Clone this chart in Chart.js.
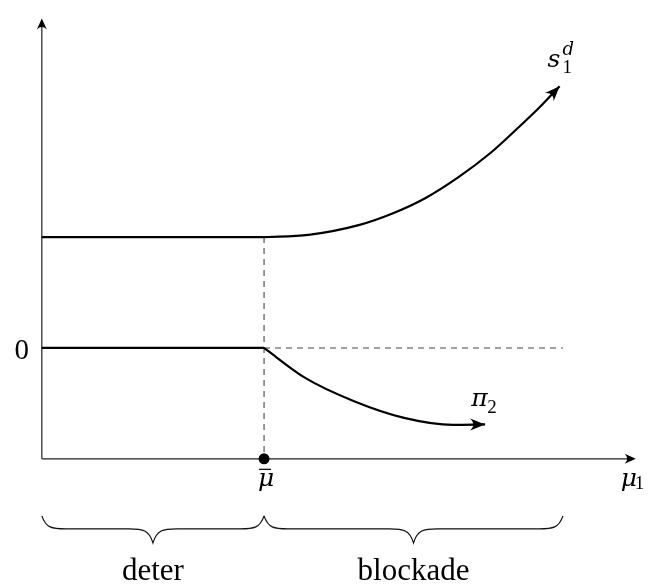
<!DOCTYPE html>
<html>
<head>
<meta charset="utf-8">
<script src="https://cdn.jsdelivr.net/npm/chart.js@4.4.1/dist/chart.umd.min.js"></script>
<style>
    body { margin: 0; background: #fff; }
    #wrap { position: relative; width: 654px; height: 587px; }
</style>
</head>
<body>
<div id="wrap"><canvas id="regimeChart"></canvas></div>
<script>
// threshold between the two regimes
const muBar = 2;
const xAxisEnd = 5.345;
const yAxisTop = 2.97;
const axisLevel = -1;

// flat parts before the threshold
const flatX = [0, 2];
const sFlatY = [1, 1];
const piFlatY = [0, 0];

// s_1^d after the threshold
const sX = [2, 2.4, 2.86, 3.15, 3.45, 3.75, 4.04, 4.27, 4.48, 4.66];
const sY = [1, 1.02, 1.11, 1.21, 1.35, 1.54, 1.76, 1.97, 2.17, 2.36];

// pi_2 after the threshold
const piX = [2, 2.37, 2.81, 3.26, 3.7, 3.99];
const piY = [0, -0.27, -0.48, -0.63, -0.693, -0.69];

// dashed guides
const zeroGuideX = [2, 4.69];
const muGuideY = [1, -1];

// braces under the axis
const braceStarts = [0, 2];
const braceEnds = [2, 4.69];
const braceLabels = ['deter', 'blockade'];

const MATH = '"DejaVu Serif", "Liberation Serif", serif';
const TEXT = '"Liberation Serif", serif';

const pts = (xs, ys) => xs.map((x, i) => ({ x: x, y: ys[i] }));

function arrowHead(ctx, x, y, angle, len, half) {
    ctx.save();
    ctx.translate(x, y);
    ctx.rotate(angle);
    ctx.beginPath();
    ctx.moveTo(0, 0);
    ctx.lineTo(-len, -half);
    ctx.quadraticCurveTo(-len * 0.55, 0, -len, half);
    ctx.closePath();
    ctx.fill();
    ctx.restore();
}

function brace(ctx, x0, x1, yTop, yLine, yTip) {
    const xm = (x0 + x1) / 2;
    const r = 24;
    ctx.beginPath();
    ctx.moveTo(x0, yTop);
    ctx.bezierCurveTo(x0 + 4, yLine - 1, x0 + 10, yLine, x0 + r, yLine);
    ctx.lineTo(xm - r, yLine);
    ctx.bezierCurveTo(xm - 10, yLine, xm - 4, yLine + 1, xm, yTip);
    ctx.bezierCurveTo(xm + 4, yLine + 1, xm + 10, yLine, xm + r, yLine);
    ctx.lineTo(x1 - r, yLine);
    ctx.bezierCurveTo(x1 - 10, yLine, x1 - 4, yLine - 1, x1, yTop);
    ctx.stroke();
}

const axesPlugin = {
    id: 'axesPlugin',
    beforeDatasetsDraw(chart) {
        const ctx = chart.ctx;
        const xs = chart.scales.x, ys = chart.scales.y;
        const ox = xs.getPixelForValue(0), oy = ys.getPixelForValue(axisLevel);
        const ex = xs.getPixelForValue(xAxisEnd), ty = ys.getPixelForValue(yAxisTop);
        ctx.save();
        ctx.strokeStyle = '#222';
        ctx.fillStyle = '#000';
        ctx.lineWidth = 1.2;
        ctx.beginPath();
        ctx.moveTo(ox, oy);
        ctx.lineTo(ex - 4, oy);
        ctx.moveTo(ox, oy);
        ctx.lineTo(ox, ty + 4);
        ctx.stroke();
        arrowHead(ctx, ex, oy, 0, 11, 5);
        arrowHead(ctx, ox, ty, -Math.PI / 2, 11, 5);
        ctx.restore();
    },
    afterDatasetsDraw(chart) {
        const ctx = chart.ctx;
        const xs = chart.scales.x, ys = chart.scales.y;
        ctx.save();
        ctx.fillStyle = '#000';

        // arrow tips on the two curves
        [[sX, sY], [piX, piY]].forEach(([xx, yy]) => {
            const n = xx.length;
            const x1 = xs.getPixelForValue(xx[n - 1]), y1 = ys.getPixelForValue(yy[n - 1]);
            const x0 = xs.getPixelForValue(xx[n - 2]), y0 = ys.getPixelForValue(yy[n - 2]);
            arrowHead(ctx, x1, y1, Math.atan2(y1 - y0, x1 - x0), 15, 6);
        });

        // braces and their labels
        ctx.strokeStyle = '#111';
        ctx.lineWidth = 1.2;
        const yTop = ys.getPixelForValue(axisLevel) + 57;
        braceStarts.forEach((b, i) => {
            const x0 = xs.getPixelForValue(b), x1 = xs.getPixelForValue(braceEnds[i]);
            brace(ctx, x0, x1, yTop, yTop + 13, yTop + 27);
            ctx.font = '31px ' + TEXT;
            ctx.textAlign = 'center';
            ctx.textBaseline = 'alphabetic';
            ctx.fillText(braceLabels[i], (x0 + x1) / 2, yTop + 64);
        });

        const mx = xs.getPixelForValue(muBar), ay = ys.getPixelForValue(axisLevel);
        const ox = xs.getPixelForValue(0), zy = ys.getPixelForValue(0);

        // 0 on the vertical axis
        ctx.font = '29px ' + TEXT;
        ctx.textAlign = 'center';
        ctx.fillText('0', ox - 20, zy + 11);

        // mu bar under the dot
        ctx.font = 'italic 25px ' + MATH;
        ctx.fillText('\u03bc', mx + 2, ay + 27);
        ctx.lineWidth = 1.3;
        ctx.beginPath();
        ctx.moveTo(mx - 5, ay + 10.5);
        ctx.lineTo(mx + 7, ay + 10.5);
        ctx.stroke();

        // mu_1 at the end of the horizontal axis
        const ex = xs.getPixelForValue(xAxisEnd);
        ctx.textAlign = 'left';
        ctx.fillText('\u03bc', ex - 15, ay + 27);
        ctx.font = '19px ' + TEXT;
        ctx.fillText('1', ex - 1, ay + 30);

        // s_1^d at the end of the rising curve
        const sx = xs.getPixelForValue(sX[sX.length - 1]), sy = ys.getPixelForValue(sY[sY.length - 1]);
        ctx.font = 'italic 25px ' + MATH;
        ctx.fillText('s', sx - 12, sy - 19);
        ctx.font = 'italic 18px ' + MATH;
        ctx.fillText('d', sx + 3, sy - 31);
        ctx.font = '19px ' + TEXT;
        ctx.fillText('1', sx + 3, sy - 13);

        // pi_2 above the falling curve's tip
        const px = xs.getPixelForValue(piX[piX.length - 1]), py = ys.getPixelForValue(piY[piY.length - 1]);
        ctx.font = 'italic 25px ' + MATH;
        ctx.fillText('\u03c0', px - 14, py - 18);
        ctx.font = '19px ' + TEXT;
        ctx.fillText('2', px + 2, py - 11);

        ctx.restore();
    }
};

const solid = { borderColor: '#000', borderWidth: 2.2, pointRadius: 0, fill: false };
const dashed = { borderColor: '#444', borderWidth: 1.1, borderDash: [6, 5], pointRadius: 0, fill: false };

new Chart(document.getElementById('regimeChart'), {
    type: 'line',
    data: {
        datasets: [
            { data: [{ x: muBar, y: axisLevel }], showLine: false, pointRadius: 5.5,
              pointBackgroundColor: '#000', pointBorderWidth: 0 },
            Object.assign({ data: pts(flatX, sFlatY) }, solid),
            Object.assign({ data: pts(sX, sY), cubicInterpolationMode: 'monotone' }, solid),
            Object.assign({ data: pts(flatX, piFlatY) }, solid),
            Object.assign({ data: pts(piX, piY), cubicInterpolationMode: 'monotone' }, solid),
            Object.assign({ data: pts(zeroGuideX, [0, 0]) }, dashed),
            Object.assign({ data: pts([muBar, muBar], muGuideY) }, dashed)
        ]
    },
    options: {
        responsive: true,
        maintainAspectRatio: false,
        animation: false,
        layout: { padding: 0 },
        plugins: { legend: { display: false }, tooltip: { enabled: false } },
        scales: {
            x: { type: 'linear', display: false, min: -0.327, max: 5.46 },
            y: { type: 'linear', display: false, min: -2.106, max: 3.088 }
        }
    },
    plugins: [axesPlugin]
});
</script>
</body>
</html>
